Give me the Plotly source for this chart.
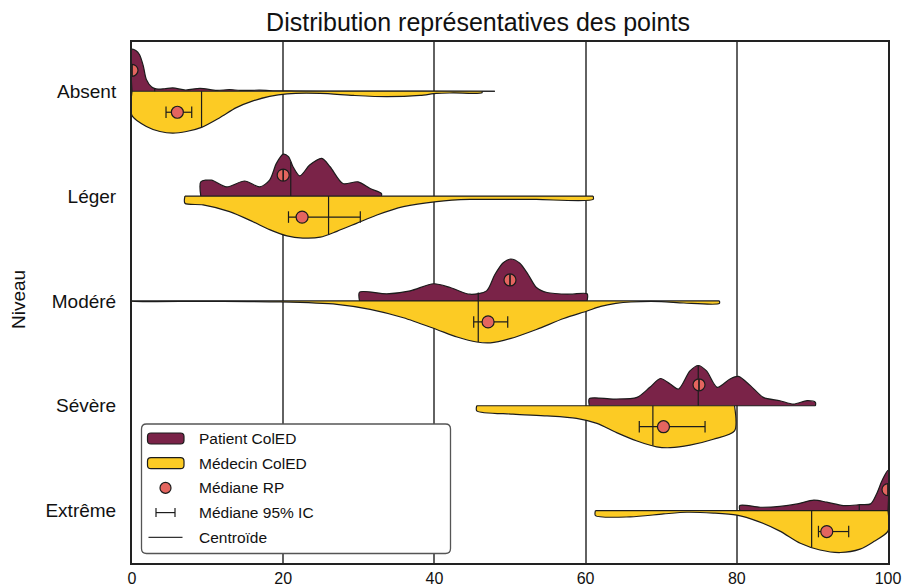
import numpy as np
import plotly.graph_objects as go

# ---------------------------------------------------------------- data
LEVELS = ["Absent", "Léger", "Modéré", "Sévère", "Extrême"]
X_TICKS = [0, 20, 40, 60, 80, 100]

# Patient ColED: density profile per level (score, relative density)
PATIENT_X = [
    [0, 0.5, 1.0, 1.5, 1.9, 2.6, 3.2, 4.3, 5.4, 7.1, 9.0, 11.2, 12.9, 14.3, 16.9, 19.6, 30, 48],
    [9.1, 10.5, 12.5, 14.9, 16.9, 18.2, 19.1, 20.0, 20.7, 21.3, 22.2, 23.5, 25.1, 26.2, 27.9, 29.9, 31.5, 33.0],
    [30.1, 33.7, 36.8, 39.9, 42.1, 44.7, 46.9, 48.0, 49.1, 50.1, 51.3, 52.4, 53.5, 54.9, 57.9, 60.2],
    [60.5, 63.7, 66.8, 68.5, 69.9, 71.2, 72.3, 73.8, 74.9, 76.0, 77.4, 79.1, 80.2, 81.8, 83.5, 85.7, 87.5, 89.3, 90.4],
    [80.4, 83.1, 85.7, 88.0, 90.2, 91.9, 94.1, 96.3, 97.7, 98.5, 99.2, 100],
]
PATIENT_D = [
    [1.0, 0.97, 0.87, 0.6, 0.28, 0.1, 0.055, 0.06, 0.08, 0.03, 0.07, 0.02, 0.04, 0.02, 0.025, 0.01, 0.005, 0.0],
    [0.34, 0.38, 0.22, 0.36, 0.22, 0.38, 0.78, 1.0, 0.94, 0.7, 0.48, 0.74, 0.9, 0.7, 0.3, 0.34, 0.18, 0.06],
    [0.21, 0.17, 0.24, 0.41, 0.32, 0.16, 0.24, 0.63, 0.91, 1.0, 0.9, 0.63, 0.32, 0.2, 0.16, 0.17],
    [0.17, 0.16, 0.2, 0.44, 0.65, 0.52, 0.4, 0.83, 0.96, 0.83, 0.44, 0.64, 0.7, 0.48, 0.2, 0.12, 0.04, 0.12, 0.08],
    [0.12, 0.08, 0.1, 0.16, 0.25, 0.2, 0.12, 0.14, 0.16, 0.4, 0.71, 0.96],
]

# Médecin ColED: density profile per level (score, relative density)
MEDECIN_X = [
    [0, 1.9, 3.7, 5.4, 7.2, 9.2, 11.6, 13.8, 16.0, 18.2, 20.5, 24.9, 29.3, 33.7, 38.1, 40.3, 42.5, 46.3],
    [7.0, 9.4, 12.9, 16.0, 18.2, 20.5, 22.6, 24.9, 27.1, 29.7, 32.4, 35.9, 40.3, 44.7, 49.1, 53.5, 61.0],
    [0, 10, 19.6, 27.1, 31.5, 35.9, 40.3, 43.0, 45.6, 47.4, 50.0, 53.5, 57.1, 60.2, 62.0, 64.0, 66.0, 70.0, 73.0, 77.7],
    [45.6, 50.4, 54.9, 58.8, 61.5, 64.1, 66.8, 69.4, 71.2, 73.8, 76.9, 79.7],
    [61.3, 65.9, 70.3, 73.4, 76.9, 80.0, 82.7, 85.7, 88.4, 91.0, 93.7, 96.3, 98.1, 100],
]
MEDECIN_D = [
    [0.58, 0.84, 0.96, 1.0, 0.96, 0.86, 0.63, 0.39, 0.23, 0.12, 0.06, 0.05, 0.1, 0.13, 0.1, 0.05, 0.04, 0.035],
    [0.17, 0.21, 0.37, 0.61, 0.8, 0.95, 1.0, 0.98, 0.84, 0.65, 0.45, 0.25, 0.13, 0.08, 0.08, 0.08, 0.08],
    [0.005, 0.01, 0.024, 0.08, 0.2, 0.4, 0.68, 0.86, 0.98, 1.0, 0.9, 0.68, 0.42, 0.24, 0.13, 0.06, 0.025, 0.015, 0.05, 0.06],
    [0.12, 0.2, 0.24, 0.3, 0.42, 0.64, 0.84, 0.98, 1.0, 0.94, 0.8, 0.6],
    [0.12, 0.15, 0.08, 0.04, 0.06, 0.11, 0.25, 0.49, 0.78, 0.94, 1.0, 0.92, 0.74, 0.49],
]

PATIENT_MEDIAN = [0, 20, 50, 75, 100]
PATIENT_CI_LO = [0, 20, 50, 75, 100]
PATIENT_CI_HI = [0, 20, 50, 75, 100]
PATIENT_CENTROID = [3.0, 21.0, 45.8, 74.9, 96.2]

MEDECIN_MEDIAN = [6.0, 22.5, 47.1, 70.3, 91.9]
MEDECIN_CI_LO = [4.5, 20.7, 45.2, 67.1, 90.8]
MEDECIN_CI_HI = [7.9, 30.2, 49.7, 75.8, 94.8]
MEDECIN_CENTROID = [9.2, 26.0, 45.8, 68.9, 89.9]

# ---------------------------------------------------------------- style
PURPLE = "#7a2348"
YELLOW = "#fccb24"
SALMON = "#e4655f"
EDGE = "#1c1c1c"
FONT = "Liberation Sans, Arial, sans-serif"
HALF_WIDTH = 0.4      # max half-violin width in category units
POINT_OFFSET = 0.2    # vertical offset of the median markers
CAP = 0.055           # half height of the CI caps

fig = go.Figure()


def half_violin(xs, ds, base, sign, color):
    ys = [base + sign * HALF_WIDTH * d for d in ds]
    x = [xs[0]] + list(xs) + [xs[-1]]
    y = [base] + ys + [base]
    return go.Scatter(
        x=x, y=y, mode="lines", fill="toself", fillcolor=color,
        line=dict(color=EDGE, width=1.2, shape="spline", smoothing=0.8),
        hoverinfo="skip", showlegend=False,
    )


# violins (Patient upwards, Médecin downwards)
for i in range(len(LEVELS)):
    fig.add_trace(half_violin(PATIENT_X[i], PATIENT_D[i], i, -1, PURPLE))
    fig.add_trace(half_violin(MEDECIN_X[i], MEDECIN_D[i], i, 1, YELLOW))

# baselines between the two halves
bx, by = [], []
for i in range(len(LEVELS)):
    lo = min(PATIENT_X[i][0], MEDECIN_X[i][0])
    hi = max(PATIENT_X[i][-1], MEDECIN_X[i][-1])
    bx += [lo, hi, None]
    by += [i, i, None]
fig.add_trace(go.Scatter(x=bx, y=by, mode="lines", line=dict(color=EDGE, width=1.2),
                         hoverinfo="skip", showlegend=False))

# centroid lines
cx, cy = [], []
for i in range(len(LEVELS)):
    hp = np.interp(PATIENT_CENTROID[i], PATIENT_X[i], PATIENT_D[i])
    cx += [PATIENT_CENTROID[i], PATIENT_CENTROID[i], None]
    cy += [i, i - HALF_WIDTH * hp, None]
    hm = np.interp(MEDECIN_CENTROID[i], MEDECIN_X[i], MEDECIN_D[i])
    cx += [MEDECIN_CENTROID[i], MEDECIN_CENTROID[i], None]
    cy += [i, i + HALF_WIDTH * hm, None]
fig.add_trace(go.Scatter(x=cx, y=cy, mode="lines", line=dict(color=EDGE, width=1.2),
                         hoverinfo="skip", showlegend=False))

# median 95% CI bars and caps
barx, bary, capx, capy = [], [], [], []
for i in range(len(LEVELS)):
    for lo, hi, yy in ((PATIENT_CI_LO[i], PATIENT_CI_HI[i], i - POINT_OFFSET),
                       (MEDECIN_CI_LO[i], MEDECIN_CI_HI[i], i + POINT_OFFSET)):
        barx += [lo, hi, None]
        bary += [yy, yy, None]
        for v in (lo, hi):
            capx += [v, v, None]
            capy += [yy - CAP, yy + CAP, None]
fig.add_trace(go.Scatter(x=barx, y=bary, mode="lines", line=dict(color=EDGE, width=1.2),
                         hoverinfo="skip", showlegend=False))

# median markers
mx = PATIENT_MEDIAN + MEDECIN_MEDIAN
my = [i - POINT_OFFSET for i in range(len(LEVELS))] + [i + POINT_OFFSET for i in range(len(LEVELS))]
fig.add_trace(go.Scatter(x=mx, y=my, mode="markers",
                         marker=dict(size=12, color=SALMON, line=dict(color=EDGE, width=1.2)),
                         hoverinfo="skip", showlegend=False))
fig.add_trace(go.Scatter(x=capx, y=capy, mode="lines", line=dict(color=EDGE, width=1.2),
                         hoverinfo="skip", showlegend=False))

# ---------------------------------------------------------------- legend box
W, H = 904, 588
ML, MR, MT, MB = 132, 16, 42, 25
PL, PR, PT, PB = ML, W - MR, MT, H - MB


def to_paper(x, y):
    return (x - PL) / (PR - PL), (PB - y) / (PB - PT)


def rrect_path(x0, y0, x1, y1, r):
    def P(x, y):
        a, b = to_paper(x, y)
        return f"{a:.5f},{b:.5f}"
    return (f"M{P(x0 + r, y0)} L{P(x1 - r, y0)} Q{P(x1, y0)} {P(x1, y0 + r)} "
            f"L{P(x1, y1 - r)} Q{P(x1, y1)} {P(x1 - r, y1)} L{P(x0 + r, y1)} "
            f"Q{P(x0, y1)} {P(x0, y1 - r)} L{P(x0, y0 + r)} Q{P(x0, y0)} {P(x0 + r, y0)} Z")


shapes = [dict(type="path", xref="paper", yref="paper", layer="above",
               path=rrect_path(141.5, 424, 450.5, 553.5, 5),
               fillcolor="white", line=dict(color="#555555", width=1.3))]
annotations = []

legend_labels = ["Patient ColED", "Médecin ColED", "Médiane RP", "Médiane 95% IC", "Centroïde"]
row_y = [438.5 + 24.7 * k for k in range(5)]
icon_cx = 165.5

for k, (label, yy) in enumerate(zip(legend_labels, row_y)):
    if k < 2:
        shapes.append(dict(type="path", xref="paper", yref="paper", layer="above",
                           path=rrect_path(147.5, yy - 5.5, 184, yy + 5.5, 3.5),
                           fillcolor=[PURPLE, YELLOW][k], line=dict(color=EDGE, width=1.2)))
    elif k == 2:
        a0, b0 = to_paper(icon_cx - 5.5, yy + 5.5)
        a1, b1 = to_paper(icon_cx + 5.5, yy - 5.5)
        shapes.append(dict(type="circle", xref="paper", yref="paper", layer="above",
                           x0=a0, y0=b0, x1=a1, y1=b1,
                           fillcolor=SALMON, line=dict(color=EDGE, width=1.2)))
    elif k == 3:
        for (xa, ya, xb, yb) in ((156, yy, 175, yy), (156, yy - 4.5, 156, yy + 4.5),
                                 (175, yy - 4.5, 175, yy + 4.5)):
            a0, b0 = to_paper(xa, ya)
            a1, b1 = to_paper(xb, yb)
            shapes.append(dict(type="line", xref="paper", yref="paper", layer="above",
                               x0=a0, y0=b0, x1=a1, y1=b1, line=dict(color=EDGE, width=1.2)))
    else:
        a0, b0 = to_paper(148.5, yy)
        a1, b1 = to_paper(182.5, yy)
        shapes.append(dict(type="line", xref="paper", yref="paper", layer="above",
                           x0=a0, y0=b0, x1=a1, y1=b1, line=dict(color="#333333", width=1.2)))
    ta, tb = to_paper(196.5, yy)
    annotations.append(dict(xref="paper", yref="paper", x=ta, y=tb, text=label,
                            showarrow=False, xanchor="left", yanchor="middle",
                            font=dict(family=FONT, size=15.5, color="#111111")))

# y axis title
ya, yb = to_paper(18, 300)
annotations.append(dict(xref="paper", yref="paper", x=ya, y=yb, text="Niveau",
                        showarrow=False, textangle=-90, xanchor="center", yanchor="middle",
                        font=dict(family=FONT, size=19, color="#111111")))

fig.update_layout(
    width=W, height=H,
    margin=dict(l=ML, r=MR, t=MT, b=MB, pad=0, autoexpand=False),
    paper_bgcolor="white", plot_bgcolor="white",
    showlegend=False,
    title=dict(text="Distribution représentatives des points", x=478 / W, xref="container",
               xanchor="center", y=1 - 22 / H, yref="container", yanchor="middle",
               font=dict(family=FONT, size=25, color="#111111")),
    xaxis=dict(range=[0, 100], tickvals=X_TICKS, ticktext=[str(v) for v in X_TICKS],
               automargin=False,
               showgrid=True, gridcolor="rgba(70,70,70,0.85)", gridwidth=2,
               zeroline=False, showline=True, mirror=True, linecolor="#222222", linewidth=2,
               ticks="", ticklabelstandoff=0,
               tickfont=dict(family=FONT, size=16, color="#111111")),
    yaxis=dict(range=[4.5, -0.47], tickvals=list(range(len(LEVELS))), ticktext=LEVELS,
               automargin=False,
               showgrid=False, zeroline=False, showline=True, mirror=True,
               linecolor="#222222", linewidth=2, ticks="", ticklabelstandoff=10,
               tickfont=dict(family=FONT, size=19, color="#111111")),
    shapes=shapes,
    annotations=annotations,
)

fig.write_html("out.html")
